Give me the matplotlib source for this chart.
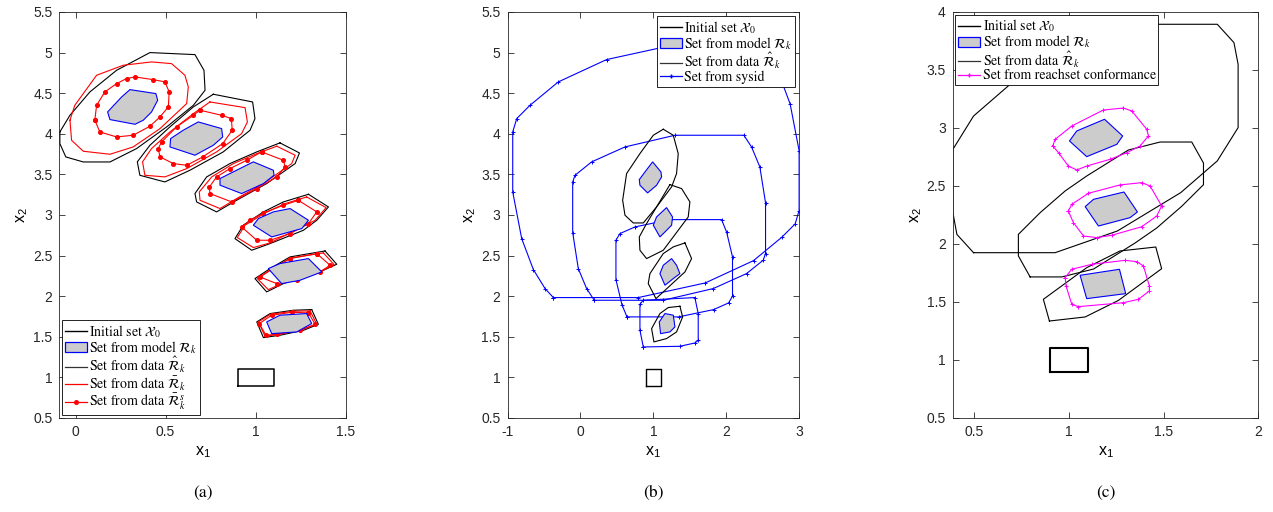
import matplotlib
matplotlib.use("Agg")
import matplotlib.pyplot as plt
import matplotlib.patches as mpatches
from matplotlib.lines import Line2D
import numpy as np

plt.rcParams["font.family"] = "Liberation Sans"
plt.rcParams["mathtext.fontset"] = "stix"

# initial set X0 (same in all panels)
x0_box = [(0.9, 0.9), (1.1, 0.9), (1.1, 1.1), (0.9, 1.1)]

# ---------------- panel (a) ----------------
a_hat = [
    [(-0.087, 4.023), (-0.031, 4.228), (0.080, 4.516), (0.228, 4.782), (0.413, 5.0), (0.663, 4.975),
     (0.713, 4.782), (0.719, 4.536), (0.654, 4.351), (0.506, 4.085), (0.339, 3.818), (0.191, 3.653),
     (0.043, 3.653), (-0.054, 3.715), (-0.087, 3.879)],
    [(0.765, 4.487), (0.983, 4.392), (0.996, 4.187), (0.969, 4.044), (0.820, 3.777), (0.635, 3.551),
     (0.496, 3.407), (0.357, 3.489), (0.343, 3.654), (0.413, 3.859), (0.524, 4.085), (0.654, 4.331)],
    [(1.135, 3.888), (1.243, 3.764), (1.219, 3.633), (1.061, 3.387), (0.894, 3.181), (0.783, 3.038),
     (0.672, 3.161), (0.663, 3.264), (0.728, 3.469), (0.857, 3.633), (1.006, 3.777)],
    [(1.293, 3.255), (1.404, 3.099), (1.339, 2.935), (1.265, 2.812), (1.080, 2.648), (0.978, 2.566),
     (0.885, 2.709), (0.931, 2.874), (1.043, 3.038), (1.154, 3.161)],
    [(1.385, 2.557), (1.450, 2.393), (1.376, 2.319), (1.154, 2.155), (1.061, 2.053), (0.996, 2.217),
     (1.080, 2.340), (1.191, 2.484)],
    [(1.311, 1.835), (1.348, 1.654), (1.265, 1.580), (1.135, 1.519), (1.043, 1.490), (1.006, 1.683),
     (1.080, 1.786), (1.209, 1.827)],
]
a_bar = [
    [(-0.031, 4.167), (-0.004, 4.351), (0.117, 4.721), (0.265, 4.844), (0.422, 4.885), (0.533, 4.864),
     (0.607, 4.721), (0.626, 4.577), (0.617, 4.372), (0.469, 4.064), (0.320, 3.838), (0.191, 3.748),
     (0.043, 3.785), (-0.022, 3.920)],
    [(0.746, 4.392), (0.941, 4.322), (0.954, 4.146), (0.922, 4.002), (0.783, 3.777), (0.617, 3.571),
     (0.496, 3.469), (0.385, 3.489), (0.372, 3.654), (0.422, 3.818), (0.524, 4.023), (0.654, 4.248)],
    [(1.117, 3.847), (1.219, 3.736), (1.200, 3.633), (1.043, 3.387), (0.894, 3.202), (0.802, 3.079),
     (0.691, 3.181), (0.687, 3.284), (0.756, 3.469), (0.876, 3.633), (1.006, 3.756)],
    [(1.283, 3.222), (1.391, 3.091), (1.330, 2.935), (1.080, 2.656), (0.987, 2.599), (0.898, 2.722),
     (0.941, 2.874), (1.052, 3.025), (1.163, 3.140)],
    [(1.376, 2.533), (1.435, 2.389), (1.367, 2.311), (1.154, 2.163), (1.070, 2.081), (1.009, 2.217),
     (1.089, 2.328), (1.194, 2.471)],
    [(1.302, 1.819), (1.339, 1.654), (1.256, 1.589), (1.135, 1.531), (1.052, 1.507), (1.015, 1.683),
     (1.083, 1.778), (1.206, 1.814)],
]
a_bar_s = [
    [(0.107, 4.167), (0.117, 4.351), (0.163, 4.516), (0.228, 4.618), (0.283, 4.680), (0.330, 4.700),
     (0.431, 4.667), (0.496, 4.639), (0.520, 4.516), (0.515, 4.331), (0.469, 4.208), (0.413, 4.093),
     (0.320, 3.982), (0.228, 3.961), (0.135, 4.023)],
    [(0.691, 4.290), (0.811, 4.228), (0.865, 4.187), (0.870, 4.044), (0.817, 3.879), (0.706, 3.715),
     (0.617, 3.612), (0.543, 3.633), (0.469, 3.715), (0.459, 3.818), (0.478, 3.900), (0.561, 4.085),
     (0.654, 4.228)],
    [(1.033, 3.777), (1.154, 3.674), (1.163, 3.592), (1.117, 3.469), (1.006, 3.325), (0.867, 3.161),
     (0.746, 3.264), (0.743, 3.346), (0.783, 3.469), (0.857, 3.571), (0.950, 3.674)],
    [(1.237, 3.181), (1.339, 3.038), (1.293, 2.894), (1.191, 2.771), (1.080, 2.689), (1.006, 2.689),
     (0.922, 2.853), (0.969, 2.935), (1.043, 3.025), (1.154, 3.120)],
    [(1.339, 2.525), (1.413, 2.381), (1.357, 2.299), (1.228, 2.196), (1.117, 2.155), (1.024, 2.237),
     (1.089, 2.340), (1.191, 2.463)],
    [(1.293, 1.794), (1.330, 1.654), (1.246, 1.580), (1.117, 1.531), (1.057, 1.519), (1.020, 1.663),
     (1.089, 1.765), (1.200, 1.802)],
]
a_model = [
    [(0.178, 4.269), (0.256, 4.454), (0.302, 4.544), (0.446, 4.495), (0.456, 4.413), (0.422, 4.269),
     (0.376, 4.167), (0.330, 4.117), (0.191, 4.175)],
    [(0.681, 4.146), (0.811, 4.064), (0.817, 3.961), (0.765, 3.859), (0.663, 3.736), (0.524, 3.838),
     (0.528, 3.941), (0.598, 4.044)],
    [(0.987, 3.654), (1.098, 3.551), (1.102, 3.490), (1.043, 3.387), (0.922, 3.264), (0.802, 3.367),
     (0.802, 3.449), (0.857, 3.510)],
    [(1.191, 3.079), (1.293, 2.935), (1.256, 2.833), (1.089, 2.730), (0.987, 2.874), (1.015, 2.956),
     (1.098, 3.038)],
    [(1.293, 2.463), (1.367, 2.299), (1.246, 2.196), (1.144, 2.155), (1.070, 2.340), (1.135, 2.402)],
    [(1.283, 1.786), (1.311, 1.663), (1.228, 1.560), (1.089, 1.539), (1.061, 1.683), (1.135, 1.766)],
]

# ---------------- panel (b) ----------------
b_hat = [
    [(1.135, 4.056), (1.272, 3.982), (1.340, 3.756), (1.317, 3.510), (1.249, 3.346), (1.043, 3.099),
     (0.861, 2.902), (0.724, 2.902), (0.610, 2.997), (0.578, 3.181), (0.632, 3.510), (0.815, 3.756),
     (0.998, 3.982)],
    [(1.226, 3.374), (1.386, 3.325), (1.500, 3.161), (1.477, 2.976), (1.340, 2.812), (1.135, 2.566),
     (0.906, 2.463), (0.815, 2.566), (0.806, 2.730), (0.906, 2.894), (1.043, 3.099)],
    [(1.432, 2.656), (1.523, 2.463), (1.432, 2.299), (1.135, 2.053), (1.035, 1.970), (0.929, 2.155),
     (0.952, 2.278), (1.135, 2.525), (1.272, 2.607)],
    [(1.363, 1.876), (1.400, 1.745), (1.317, 1.560), (1.180, 1.478), (1.007, 1.437), (0.975, 1.601),
     (1.089, 1.786), (1.203, 1.860)],
]
b_model = [
    [(0.989, 3.654), (1.103, 3.530), (1.112, 3.469), (1.043, 3.366), (0.920, 3.272), (0.815, 3.366),
     (0.806, 3.436), (0.884, 3.530)],
    [(1.180, 3.091), (1.262, 2.976), (1.249, 2.874), (1.158, 2.791), (1.089, 2.730), (0.998, 2.874),
     (1.043, 2.976)],
    [(1.249, 2.463), (1.317, 2.381), (1.363, 2.278), (1.272, 2.217), (1.158, 2.135), (1.089, 2.278),
     (1.135, 2.381)],
    [(1.158, 1.786), (1.272, 1.766), (1.295, 1.622), (1.226, 1.560), (1.098, 1.539), (1.080, 1.683)],
]
b_sysid = [
    [(-0.372, 1.983), (-0.486, 2.094), (-0.646, 2.328), (-0.806, 2.709), (-0.929, 3.284), (-0.929, 4.023),
     (-0.874, 4.187), (-0.692, 4.351), (-0.304, 4.639), (0.358, 4.914), (1.276, 5.094), (2.440, 5.094),
     (2.555, 4.984), (2.715, 4.750), (2.874, 4.368), (2.997, 3.793), (2.997, 3.054), (2.943, 2.890),
     (2.760, 2.726), (2.372, 2.438), (1.710, 2.163), (0.792, 1.983)],
    [(0.189, 1.950), (0.084, 2.094), (-0.030, 2.340), (-0.107, 2.783), (-0.107, 3.407), (-0.075, 3.489),
     (0.153, 3.654), (0.610, 3.838), (1.295, 3.982), (2.240, 3.982), (2.345, 3.838), (2.459, 3.592),
     (2.537, 3.149), (2.537, 2.525), (2.505, 2.443), (2.276, 2.278), (1.820, 2.094), (1.135, 1.950)],
    [(0.637, 1.745), (0.568, 1.897), (0.486, 2.204), (0.486, 2.689), (0.541, 2.771), (0.747, 2.853),
     (1.226, 2.943), (1.934, 2.943), (2.003, 2.791), (2.084, 2.484), (2.084, 2.000), (2.030, 1.917),
     (1.825, 1.835), (1.345, 1.745)],
    [(0.861, 1.375), (0.815, 1.580), (0.815, 1.901), (0.861, 1.950), (1.568, 1.983), (1.614, 1.786),
     (1.614, 1.457), (1.568, 1.424), (1.363, 1.383)],
]

# ---------------- panel (c) ----------------
c_hat = [
    [(0.495, 1.925), (0.407, 2.083), (0.386, 2.270), (0.386, 2.816), (0.495, 3.103), (0.688, 3.376),
     (1.023, 3.707), (1.352, 3.894), (1.783, 3.894), (1.871, 3.736), (1.893, 3.549), (1.893, 3.003),
     (1.783, 2.716), (1.590, 2.443), (1.255, 2.112), (0.926, 1.925)],
    [(0.794, 1.716), (0.732, 1.897), (0.732, 2.083), (0.847, 2.270), (0.979, 2.457), (1.093, 2.586),
     (1.313, 2.810), (1.481, 2.879), (1.648, 2.879), (1.710, 2.698), (1.710, 2.511), (1.595, 2.325),
     (1.463, 2.138), (1.349, 2.009), (1.129, 1.784), (0.961, 1.716)],
    [(0.896, 1.336), (0.864, 1.523), (1.093, 1.796), (1.269, 1.940), (1.458, 1.974), (1.489, 1.787),
     (1.261, 1.514), (1.085, 1.371)],
]
c_model = [
    [(1.002, 2.888), (1.040, 2.974), (1.187, 3.075), (1.283, 2.931), (1.252, 2.859), (1.093, 2.753)],
    [(1.085, 2.322), (1.129, 2.385), (1.290, 2.448), (1.361, 2.276), (1.322, 2.227), (1.155, 2.155)],
    [(1.058, 1.730), (1.266, 1.782), (1.299, 1.572), (1.093, 1.529)],
]
c_conf = [
    [(0.914, 2.845), (0.926, 2.902), (1.014, 3.017), (1.181, 3.155), (1.287, 3.172), (1.331, 3.147),
     (1.410, 2.989), (1.419, 2.931), (1.375, 2.845), (1.305, 2.787), (1.217, 2.730), (1.093, 2.672),
     (1.040, 2.638), (0.996, 2.672), (0.944, 2.787)],
    [(0.996, 2.284), (1.014, 2.342), (1.102, 2.437), (1.269, 2.509), (1.384, 2.529), (1.428, 2.500),
     (1.489, 2.328), (1.463, 2.241), (1.384, 2.149), (1.225, 2.075), (1.146, 2.055), (1.076, 2.069),
     (1.023, 2.184)],
    [(0.979, 1.710), (1.014, 1.782), (1.120, 1.825), (1.296, 1.859), (1.357, 1.848), (1.393, 1.810),
     (1.424, 1.638), (1.424, 1.595), (1.366, 1.523), (1.287, 1.494), (1.049, 1.460), (1.014, 1.480),
     (0.984, 1.638)],
]

GRAY = "#cccccc"
BLUE = "#0000ff"
RED = "#ff0000"
MAG = "#ff00ff"
LEG_FONT = {"family": "STIXGeneral", "size": 10}


def closed(pts):
    arr = np.array(list(pts) + [pts[0]])
    return arr[:, 0], arr[:, 1]


def draw_line(ax, pts, **kw):
    xs, ys = closed(pts)
    ax.plot(xs, ys, **kw)


def draw_model(ax, pts):
    xs, ys = closed(pts)
    ax.fill(xs, ys, facecolor=GRAY, edgecolor=BLUE, linewidth=0.8, zorder=4)


def setup_axes(ax, xlim, ylim, xticks, yticks):
    ax.set_xlim(*xlim)
    ax.set_ylim(*ylim)
    ax.set_xticks(xticks)
    ax.set_yticks(yticks)
    ax.set_xticklabels([f"{t:g}" for t in xticks])
    ax.set_yticklabels([f"{t:g}" for t in yticks])
    ax.tick_params(direction="in", top=True, right=True, length=4, width=0.6,
                   labelsize=10, colors="#262626", pad=5)
    for s in ax.spines.values():
        s.set_linewidth(0.6)
        s.set_color("#262626")
    ax.set_xlabel(r"x$_\mathregular{1}$", fontsize=11.5, labelpad=4)
    ax.set_ylabel(r"x$_\mathregular{2}$", fontsize=11.5, labelpad=2)


def common_handles():
    return [
        Line2D([], [], color="black", lw=1.0),
        mpatches.Patch(facecolor=GRAY, edgecolor=BLUE, lw=0.9),
        Line2D([], [], color="#333333", lw=0.9),
    ]


def add_legend(ax, handles, labels, loc, pad):
    leg = ax.legend(handles, labels, loc=loc, prop=LEG_FONT, handlelength=1.6, handletextpad=0.15,
                    labelspacing=-0.05, borderpad=0.2, borderaxespad=pad, fancybox=False,
                    edgecolor="black", framealpha=1)
    leg.get_frame().set_linewidth(0.6)


common_labels = ["Initial set $\\mathcal{X}_0$", "Set from model $\\mathcal{R}_k$",
                 "Set from data $\\hat{\\mathcal{R}}_k$"]

fig = plt.figure(figsize=(12.73, 5.12), dpi=100)
ax_a = fig.add_axes([0.0466, 0.1836, 0.2250, 0.7930])
ax_b = fig.add_axes([0.3987, 0.1836, 0.2292, 0.7930])
ax_c = fig.add_axes([0.7484, 0.1836, 0.2401, 0.7930])

# ---- (a)
for pts in a_hat:
    draw_line(ax_a, pts, color="black", lw=0.8, zorder=2)
for pts in a_bar:
    draw_line(ax_a, pts, color=RED, lw=0.8, zorder=3)
for pts in a_bar_s:
    draw_line(ax_a, pts, color=RED, lw=0.8, marker="o", markersize=2.6, zorder=3)
for pts in a_model:
    draw_model(ax_a, pts)
draw_line(ax_a, x0_box, color="black", lw=1.1, zorder=5)
setup_axes(ax_a, (-0.09, 1.5), (0.5, 5.5), [0, 0.5, 1, 1.5], np.arange(0.5, 5.51, 0.5))
h = common_handles() + [Line2D([], [], color=RED, lw=0.9),
                        Line2D([], [], color=RED, lw=0.9, marker="o", markersize=2.6)]
l = common_labels + ["Set from data $\\bar{\\mathcal{R}}_k$", "Set from data $\\bar{\\mathcal{R}}_k^s$"]
add_legend(ax_a, h, l, "lower left", 0.2)

# ---- (b)
for pts in b_sysid:
    draw_line(ax_b, pts, color=BLUE, lw=0.8, marker="+", markersize=3.5, markeredgewidth=0.7, zorder=2)
for pts in b_hat:
    draw_line(ax_b, pts, color="black", lw=0.8, zorder=3)
for pts in b_model:
    draw_model(ax_b, pts)
draw_line(ax_b, x0_box, color="black", lw=1.0, zorder=5)
setup_axes(ax_b, (-1, 3), (0.5, 5.5), [-1, 0, 1, 2, 3], np.arange(0.5, 5.51, 0.5))
h = common_handles() + [Line2D([], [], color=BLUE, lw=0.9, marker="+", markersize=3.5)]
l = common_labels + ["Set from sysid"]
add_legend(ax_b, h, l, "upper right", 0.3)

# ---- (c)
for pts in c_hat:
    draw_line(ax_c, pts, color="black", lw=0.8, zorder=2)
for pts in c_conf:
    draw_line(ax_c, pts, color=MAG, lw=0.8, marker="+", markersize=3.5, markeredgewidth=0.7, zorder=3)
for pts in c_model:
    draw_model(ax_c, pts)
draw_line(ax_c, x0_box, color="black", lw=1.5, zorder=5)
setup_axes(ax_c, (0.385, 2), (0.5, 4), [0.5, 1, 1.5, 2], np.arange(0.5, 4.01, 0.5))
h = common_handles() + [Line2D([], [], color=MAG, lw=0.9, marker="+", markersize=3.5)]
l = common_labels + ["Set from reachset conformance"]
add_legend(ax_c, h, l, "upper left", 0.2)

for ax, tag in [(ax_a, "(a)"), (ax_b, "(b)"), (ax_c, "(c)")]:
    pos = ax.get_position()
    fig.text((pos.x0 + pos.x1) / 2, 0.037, tag, ha="center", va="center",
             fontsize=12.5, family="STIXGeneral")

fig.savefig("out.png", dpi=100)
